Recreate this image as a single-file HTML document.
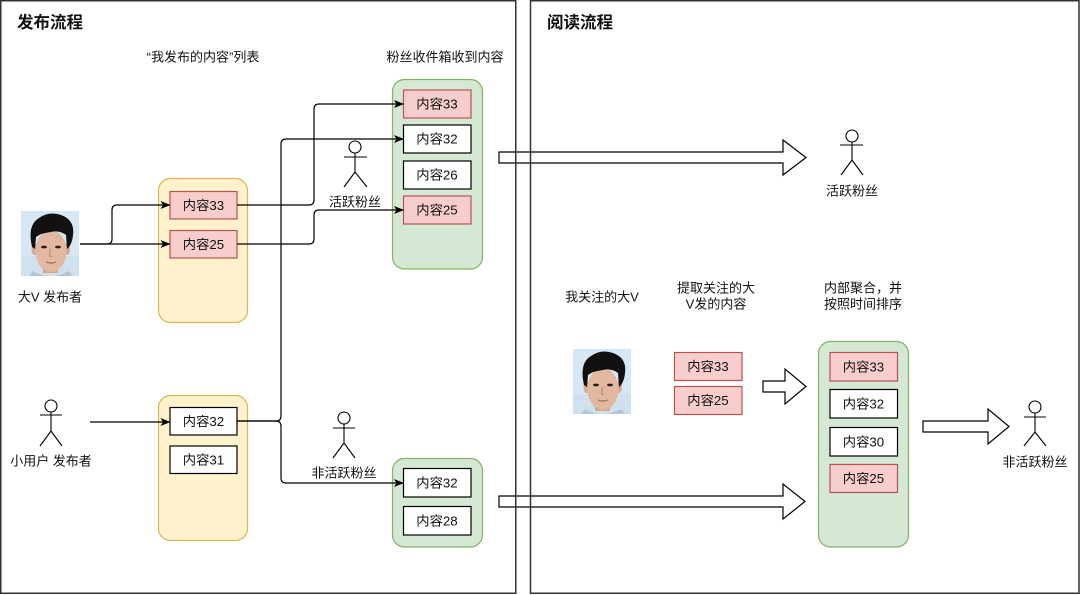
<!DOCTYPE html>
<html>
<head>
<meta charset="utf-8">
<style>
  html,body{margin:0;padding:0;background:#fff;}
  svg{display:block;}
  text{font-family:"Liberation Sans","Noto Sans CJK SC",sans-serif;fill:#111;}
  .b{font-size:13.3px;text-anchor:middle;dominant-baseline:central;}
  .l{font-size:13px;text-anchor:middle;dominant-baseline:central;}
  .t{font-size:16.5px;font-weight:bold;dominant-baseline:central;}
  .conn{fill:none;stroke:#000;stroke-width:1.2;}
  .pink{fill:#f8cecc;stroke:#b85450;stroke-width:1.2;}
  .wht{fill:#fff;stroke:#000;stroke-width:1.2;}
  .yel{fill:#fff2cc;stroke:#d6b656;stroke-width:1.2;}
  .grn{fill:#d5e8d4;stroke:#82b366;stroke-width:1.2;}
  .fig{fill:none;stroke:#000;stroke-width:1.1;}
  .harr{fill:#fff;stroke:#000;stroke-width:1.2;stroke-linejoin:miter;}
</style>
</head>
<body>
<svg width="1080" height="595" viewBox="0 0 1080 595" xmlns="http://www.w3.org/2000/svg">
  <defs>
    <marker id="ah" markerWidth="10" markerHeight="8" refX="9.5" refY="4" orient="auto" markerUnits="userSpaceOnUse">
      <path d="M0,0 L10,4 L0,8 L2.5,4 Z" fill="#000"/>
    </marker>
    <g id="face">
      <rect x="0" y="0" width="58" height="65" fill="#d6e7f5"/>
      <rect x="0" y="45" width="58" height="20" fill="#cfe0ef"/>
      <path d="M12,60 Q29,70 48,60 L52,65 L8,65 Z" fill="#b4c6d6"/>
      <rect x="22" y="50" width="15" height="12" fill="#d6a88e"/>
      <ellipse cx="13.5" cy="38" rx="3" ry="6" fill="#d6a88e"/>
      <ellipse cx="46" cy="38" rx="3" ry="6" fill="#d6a88e"/>
      <ellipse cx="30" cy="40" rx="15.5" ry="21" fill="#e2b9a0"/>
      <path d="M11,36 Q6,14 18,7 Q28,0 40,4 Q54,9 52,24 Q51,34 46,38 L45,24 Q38,19 30,21 Q20,22 15,26 L14,38 Z" fill="#111"/>
      <ellipse cx="23" cy="36" rx="3" ry="1.4" fill="#2a1d18"/>
      <ellipse cx="37" cy="36" rx="3" ry="1.4" fill="#2a1d18"/>
      <path d="M29.5,38 L28.5,45 L31,45.5" stroke="#b98871" stroke-width="1" fill="none"/>
      <path d="M25,51 Q30,53 35,51" stroke="#b0706a" stroke-width="1.4" fill="none"/>
    </g>
  </defs>

  <!-- Hollow big arrows (drawn under panel borders) -->
  <polygon class="harr" points="499,152 783,152 783,140 806,157.5 783,175 783,163 499,163"/>
  <polygon class="harr" points="499,496 783,496 783,484 805,501.5 783,519 783,507 499,507"/>

  <!-- Panels -->
  <rect x="0.75" y="0.75" width="515" height="592.5" fill="none" stroke="#333" stroke-width="1.5"/>
  <rect x="530.5" y="0.75" width="548.5" height="592.5" fill="none" stroke="#333" stroke-width="1.5"/>

  <!-- Titles -->
  <text class="t" x="17" y="23">发布流程</text>
  <text class="t" x="547" y="23">阅读流程</text>

  <text class="l" x="203" y="57">“我发布的内容”列表</text>
  <text class="l" x="445" y="57">粉丝收件箱收到内容</text>

  <!-- Left: publisher photo -->
  <use href="#face" x="21" y="211"/>
  <text class="l" x="50" y="297">大V 发布者</text>

  <!-- Small user figure -->
  <g class="fig">
    <circle cx="51" cy="406" r="6"/>
    <line x1="51" y1="412" x2="51" y2="431"/>
    <line x1="40" y1="415" x2="62" y2="415"/>
    <line x1="51" y1="431" x2="40" y2="446"/>
    <line x1="51" y1="431" x2="62" y2="446"/>
  </g>
  <text class="l" x="51" y="461">小用户 发布者</text>

  <!-- Yellow boxes -->
  <rect class="yel" x="158.5" y="178.5" width="89" height="144" rx="12"/>
  <rect class="pink" x="170" y="191.5" width="67" height="27.5"/>
  <text class="b" x="203.5" y="205.5">内容33</text>
  <rect class="pink" x="170" y="230.5" width="67" height="27.5"/>
  <text class="b" x="203.5" y="244.5">内容25</text>

  <rect class="yel" x="158.5" y="395.5" width="89" height="145" rx="12"/>
  <rect class="wht" x="170" y="407.5" width="67" height="27.5"/>
  <text class="b" x="203.5" y="421.5">内容32</text>
  <rect class="wht" x="170" y="446" width="67" height="27.5"/>
  <text class="b" x="203.5" y="460">内容31</text>

  <!-- Active fan figure (left) -->
  <g class="fig">
    <circle cx="355" cy="147" r="6"/>
    <line x1="355" y1="153" x2="355" y2="172"/>
    <line x1="344" y1="157" x2="367" y2="157"/>
    <line x1="355" y1="172" x2="344" y2="187"/>
    <line x1="355" y1="172" x2="367" y2="187"/>
  </g>
  <text class="l" x="355" y="202">活跃粉丝</text>

  <!-- Inactive fan figure (left) -->
  <g class="fig">
    <circle cx="344" cy="418" r="6"/>
    <line x1="344" y1="424" x2="344" y2="443"/>
    <line x1="333" y1="428" x2="355" y2="428"/>
    <line x1="344" y1="443" x2="333" y2="458"/>
    <line x1="344" y1="443" x2="355" y2="458"/>
  </g>
  <text class="l" x="344" y="473">非活跃粉丝</text>

  <!-- Green inbox boxes -->
  <rect class="grn" x="392.5" y="79.5" width="90" height="189.5" rx="12"/>
  <rect class="pink" x="403.5" y="90" width="67.5" height="28"/>
  <text class="b" x="437" y="104">内容33</text>
  <rect class="wht" x="403.5" y="125" width="67.5" height="28"/>
  <text class="b" x="437" y="139">内容32</text>
  <rect class="wht" x="403.5" y="161" width="67.5" height="28"/>
  <text class="b" x="437" y="175">内容26</text>
  <rect class="pink" x="403.5" y="196" width="67.5" height="28"/>
  <text class="b" x="437" y="210">内容25</text>

  <rect class="grn" x="392.5" y="458.5" width="90" height="88.5" rx="12"/>
  <rect class="wht" x="403.5" y="468.5" width="67.5" height="28.5"/>
  <text class="b" x="437" y="483">内容32</text>
  <rect class="wht" x="403.5" y="506.5" width="67.5" height="28.5"/>
  <text class="b" x="437" y="521">内容28</text>

  <!-- Connectors -->
  <path class="conn" marker-end="url(#ah)" d="M80,244 H107 Q112,244 112,239 V210 Q112,205 117,205 H170"/>
  <path class="conn" marker-end="url(#ah)" d="M80,244 H170"/>
  <path class="conn" marker-end="url(#ah)" d="M237,205 H309 Q314,205 314,200 V109 Q314,104 319,104 H403.5"/>
  <path class="conn" marker-end="url(#ah)" d="M237,244 H309 Q314,244 314,239 V215 Q314,210 319,210 H403.5"/>
  <path class="conn" marker-end="url(#ah)" d="M90,422 H170"/>
  <path class="conn" marker-end="url(#ah)" d="M237,421 H276 Q281,421 281,416 V144 Q281,139 286,139 H403.5"/>
  <path class="conn" marker-end="url(#ah)" d="M237,421 H276 Q281,421 281,426 V478 Q281,483 286,483 H403.5"/>

  <!-- Right panel: active fan -->
  <g class="fig">
    <circle cx="852" cy="136" r="6"/>
    <line x1="852" y1="142" x2="852" y2="160"/>
    <line x1="840" y1="145" x2="863" y2="145"/>
    <line x1="852" y1="160" x2="841" y2="175"/>
    <line x1="852" y1="160" x2="863" y2="175"/>
  </g>
  <text class="l" x="852" y="191">活跃粉丝</text>

  <!-- Right panel labels -->
  <text class="l" x="602" y="297">我关注的大V</text>
  <text class="l" x="716" y="288">提取关注的大</text>
  <text class="l" x="716" y="304">V发的内容</text>
  <text class="l" x="863" y="288">内部聚合，并</text>
  <text class="l" x="863" y="304">按照时间排序</text>

  <use href="#face" x="573" y="349"/>

  <rect class="pink" x="674.5" y="352.5" width="67.5" height="28"/>
  <text class="b" x="708" y="366.5">内容33</text>
  <rect class="pink" x="674.5" y="386.5" width="67.5" height="28"/>
  <text class="b" x="708" y="400.5">内容25</text>

  <polygon class="harr" points="763,381 785,381 785,369 806,386.5 785,404 785,392 763,392"/>

  <rect class="grn" x="818.5" y="341.5" width="90" height="205.5" rx="12"/>
  <rect class="pink" x="830" y="352.5" width="67.5" height="28.5"/>
  <text class="b" x="863.5" y="367">内容33</text>
  <rect class="wht" x="830" y="389.5" width="67.5" height="28.5"/>
  <text class="b" x="863.5" y="404">内容32</text>
  <rect class="wht" x="830" y="427.5" width="67.5" height="28.5"/>
  <text class="b" x="863.5" y="442">内容30</text>
  <rect class="pink" x="830" y="464.5" width="67.5" height="28"/>
  <text class="b" x="863.5" y="478.5">内容25</text>

  <polygon class="harr" points="923,421 988,421 988,409 1009,426.5 988,444 988,432 923,432"/>

  <g class="fig">
    <circle cx="1035" cy="407" r="6"/>
    <line x1="1035" y1="413" x2="1035" y2="432"/>
    <line x1="1024" y1="417" x2="1046" y2="417"/>
    <line x1="1035" y1="432" x2="1024" y2="446"/>
    <line x1="1035" y1="432" x2="1046" y2="446"/>
  </g>
  <text class="l" x="1035" y="462">非活跃粉丝</text>
</svg>
</body>
</html>
